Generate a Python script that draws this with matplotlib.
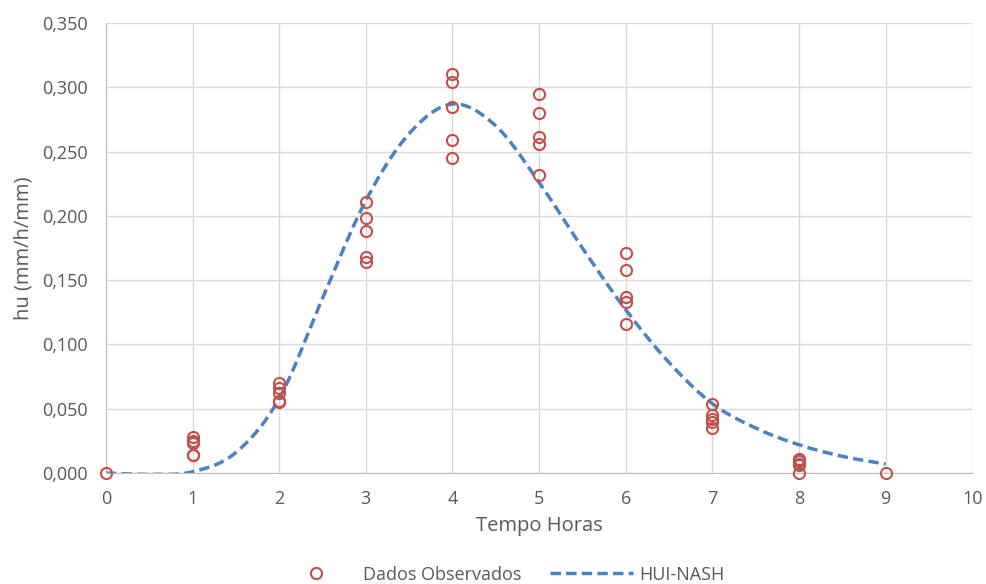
import numpy as np
import matplotlib.pyplot as plt

# dados observados (hora, hu)
obs_x = [0, 1, 1, 1, 1, 1, 2, 2, 2, 2, 2, 3, 3, 3, 3, 3, 4, 4, 4, 4, 4,
         5, 5, 5, 5, 5, 6, 6, 6, 6, 6, 7, 7, 7, 7, 7, 8, 8, 8, 8, 8, 9]
obs_y = [0.000,
         0.028, 0.025, 0.023, 0.014, 0.014,
         0.070, 0.066, 0.062, 0.056, 0.055,
         0.211, 0.198, 0.188, 0.168, 0.164,
         0.310, 0.304, 0.285, 0.259, 0.245,
         0.295, 0.280, 0.261, 0.256, 0.232,
         0.171, 0.158, 0.137, 0.133, 0.116,
         0.054, 0.045, 0.042, 0.040, 0.035,
         0.011, 0.009, 0.007, 0.006, 0.000,
         0.000]

# HUI-NASH
nash_x = [0, 0.5, 1, 1.5, 2, 2.5, 3, 3.5, 4, 4.5, 5, 5.5, 6, 6.5, 7, 7.5, 8, 8.5, 9]
nash_y = [0.000, -0.001, 0.001, 0.016, 0.058, 0.136, 0.212, 0.264, 0.287, 0.270,
          0.226, 0.175, 0.127, 0.086, 0.054, 0.035, 0.022, 0.013, 0.007]


def smooth(x, y, n=20):
    # curva suavizada tipo excel (catmull-rom)
    x = np.asarray(x, float)
    y = np.asarray(y, float)
    px = np.concatenate([[2 * x[0] - x[1]], x, [2 * x[-1] - x[-2]]])
    py = np.concatenate([[2 * y[0] - y[1]], y, [2 * y[-1] - y[-2]]])
    xs, ys = [], []
    t = np.linspace(0, 1, n, endpoint=False)
    for i in range(1, len(px) - 2):
        for arr, out in ((px, xs), (py, ys)):
            p0, p1, p2, p3 = arr[i - 1], arr[i], arr[i + 1], arr[i + 2]
            out.extend(0.5 * (2 * p1 + (-p0 + p2) * t + (2 * p0 - 5 * p1 + 4 * p2 - p3) * t ** 2
                              + (-p0 + 3 * p1 - 3 * p2 + p3) * t ** 3))
    xs.append(x[-1])
    ys.append(y[-1])
    return np.array(xs), np.array(ys)


plt.rcParams['font.family'] = ['Open Sans', 'DejaVu Sans']

fig = plt.figure(figsize=(9.87, 5.84), dpi=100)
ax = fig.add_axes([0.1074, 0.19, 0.8776, 0.7706])

ax.grid(True, color='#d9d9d9', linewidth=1)
ax.set_axisbelow(True)

ax.plot(obs_x, obs_y, linestyle='none', marker='o', markersize=8,
        markerfacecolor='none', markeredgecolor='#c0504d', markeredgewidth=1.5,
        label='Dados Observados', zorder=3, clip_on=False)
sx, sy = smooth(nash_x, nash_y)
ax.plot(sx, sy, color='#4f81bd', linestyle=(0, (3, 1.5)), linewidth=2.5,
        label='HUI-NASH', zorder=2)

ax.set_xlim(0, 10)
ax.set_ylim(0, 0.35)
ax.set_xticks(range(0, 11))
yt = np.arange(0, 0.351, 0.05)
ax.set_yticks(yt)
ax.set_yticklabels([f'{v:.3f}'.replace('.', ',') for v in yt])
ax.tick_params(axis='y', length=0, labelsize=13, colors='#595959', pad=13)
ax.tick_params(axis='x', length=0, labelsize=13, colors='#595959', pad=12)

for s in ['top', 'right']:
    ax.spines[s].set_visible(False)
for s in ['left', 'bottom']:
    ax.spines[s].set_color('#bfbfbf')

ax.set_xlabel('Tempo Horas', fontsize=14.5, color='#595959', labelpad=6)
ax.set_ylabel('hu (mm/h/mm)', fontsize=14.5, color='#595959', labelpad=6)

leg = fig.legend(loc='center', bbox_to_anchor=(0.506, 0.016), ncol=2, frameon=False,
                 fontsize=13, handlelength=4.6, handletextpad=0.3, columnspacing=1.6)
for t in leg.get_texts():
    t.set_color('#595959')

fig.savefig('out.png', dpi=100)
